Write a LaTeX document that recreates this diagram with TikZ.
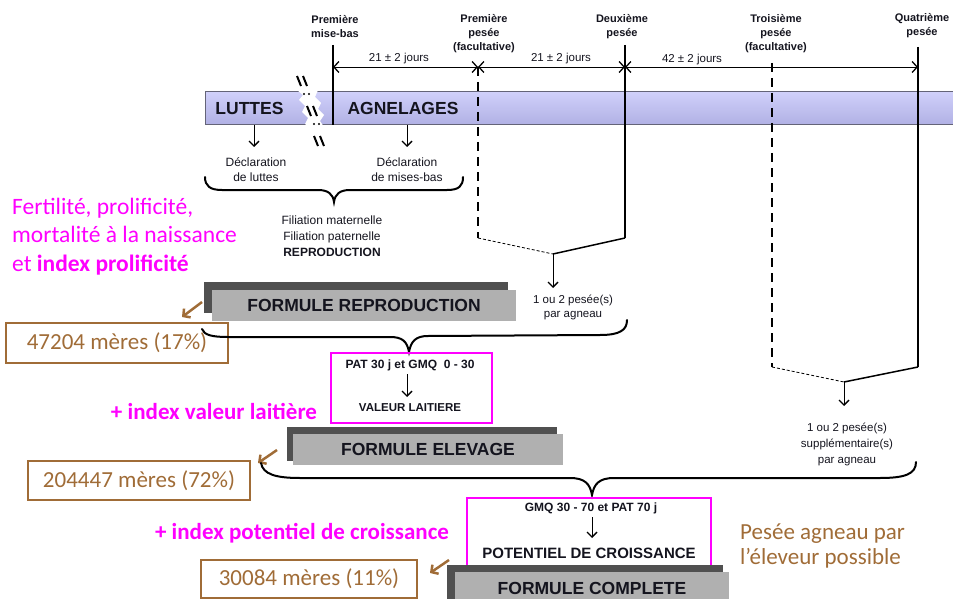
\documentclass[tikz,border=0pt]{standalone}
\usepackage{fontspec}
\setmainfont{Liberation Sans}
\newfontfamily\calfont{Carlito}
\usetikzlibrary{arrows.meta}
\definecolor{pinkc}{RGB}{255,0,255}
\definecolor{brownc}{RGB}{160,108,55}
\definecolor{darkbar}{RGB}{80,80,80}
\definecolor{lightbar}{RGB}{176,176,176}
\definecolor{bartop}{RGB}{208,208,250}
\definecolor{barbot}{RGB}{176,176,228}
\definecolor{barline}{RGB}{100,100,120}
\definecolor{txtc}{RGB}{20,20,30}
\begin{document}
\begin{tikzpicture}[x=1pt,y=-1pt,
  lbl/.style={font=\fontsize{11.5}{15}\selectfont, align=center, inner sep=0pt, text=txtc},
  blbl/.style={font=\fontsize{11}{14}\selectfont\bfseries, align=center, inner sep=0pt, text=txtc},
  vline/.style={line width=2.2pt},
  vdash/.style={line width=2.2pt, dash pattern=on 9pt off 6pt},
  thindash/.style={line width=0.8pt, dash pattern=on 3pt off 2pt},
  thinline/.style={line width=1.5pt},
  dim/.style={line width=0.9pt, {Straight Barb[length=5pt,width=11pt,line width=1.3pt]}-{Straight Barb[length=5pt,width=11pt,line width=1.3pt]}},
  darr/.style={line width=1pt, -{Straight Barb[length=5pt,width=10pt,line width=1.4pt]}},
  bracepath/.style={line width=2pt, line cap=round},
  pinkbox/.style={draw=pinkc, line width=2pt},
  lightbox/.style={fill=lightbar, inner sep=0pt, font=\fontsize{17.5}{20}\selectfont\bfseries, text=txtc},
  pinktxt/.style={font=\calfont\fontsize{23.5}{28.5}\selectfont, text=pinkc, align=left, inner sep=0pt},
  pinkbold/.style={font=\calfont\bfseries\fontsize{23}{28}\selectfont, text=pinkc, inner sep=0pt},
  brownbox/.style={draw=brownc, line width=2pt, text=brownc, font=\calfont\fontsize{23}{28}\selectfont, inner sep=0pt},
  browntxt/.style={font=\calfont\fontsize{23}{25}\selectfont, text=brownc, align=left, inner sep=0pt},
  brownarr/.style={draw=brownc, line width=2.5pt, -{Straight Barb[length=5pt,width=11pt]}},
  marks/.style={line width=2pt}
]
\useasboundingbox (0,0) rectangle (953,599);

% ---- main bar
\shade[top color=bartop, bottom color=barbot] (205,92) rectangle (955,125);
\draw[barline, line width=1pt] (205,92) rectangle (955,125);
\node[font=\fontsize{17.5}{20}\selectfont\bfseries, inner sep=0pt, text=txtc] (luttes) at (249.5,108) {LUTTES};
\node[font=\fontsize{17.5}{20}\selectfont\bfseries, inner sep=0pt, text=txtc] (agnel) at (403,108) {AGNELAGES};

% ---- break in the bar
\fill[white] (297,90) -- (303,95) -- (299,100) -- (305,106) -- (302,112) -- (308,118) -- (305,124) -- (309,127)
  -- (324,127) -- (320,121) -- (324,115) -- (318,109) -- (321,103) -- (315,97) -- (318,90) -- cycle;
\draw[marks] (297,76) -- (301,86) (303,76) -- (307,86);
\draw[marks] (307,106) -- (311,116) (313,106) -- (317,116);
\draw[marks] (314,136) -- (318,146) (320,136) -- (324,146);
\fill (304,94) circle (1.2) (309,94) circle (1.2) (314,124) circle (1.2) (319,124) circle (1.2);

% ---- top labels
\node[blbl] (t1) at (335,26.5) {Première\\mise-bas};
\node[blbl] (t2) at (484,34) {Première\\pesée\\(facultative)};
\node[blbl] (t3) at (622,27) {Deuxième\\pesée};
\node[blbl] (t4) at (776,34) {Troisième\\pesée\\(facultative)};
\node[blbl] (t5) at (922,26) {Quatrième\\pesée};

% ---- vertical lines
\coordinate (v1t) at (333,45);  \coordinate (v1b) at (333,125);
\coordinate (v2t) at (478,67);  \coordinate (v2b) at (478,238);
\coordinate (v3t) at (625,45);  \coordinate (v3b) at (625,238);
\coordinate (v4t) at (772,63);  \coordinate (v4b) at (772,367);
\coordinate (v5t) at (918,47);  \coordinate (v5b) at (918,367);
\draw[vline] (v1t) -- (v1b);
\draw[vdash] (v2t) -- (v2b);
\draw[vline] (v3t) -- (v3b);
\draw[vdash] (v4t) -- (v4b);
\draw[vline] (v5t) -- (v5b);

% ---- dimension arrows
\coordinate (m1) at (333,67); \coordinate (m2) at (478,67);
\coordinate (m3) at (625,67); \coordinate (m4) at (918,67);
\draw[dim] (m1) -- (m2);
\draw[dim] (m2) -- (m3);
\draw[dim] (m3) -- (m4);
\node[lbl] (d1) at (399,59) {21 ± 2 jours};
\node[lbl] (d2) at (561,59) {21 ± 2 jours};
\node[lbl] (d3) at (692,60) {42 ± 2 jours};

% ---- declarations
\coordinate (a1) at (254,125); \coordinate (a2) at (407,125);
\node[lbl, font=\fontsize{12}{15}\selectfont] (dl1) at (256,169.5) {Déclaration\\de luttes};
\node[lbl, font=\fontsize{12}{15}\selectfont] (dl2) at (407,169.5) {Déclaration\\de mises-bas};
\draw[darr] (a1) -- (a1 |- 0,147);
\draw[darr] (a2) -- (a2 |- 0,147);

% ---- brace 1
\draw[bracepath] (205,177) .. controls (205,186) and (210,190) .. (222,190) -- (318,190)
  .. controls (328,190) and (333,194) .. (334,202) .. controls (335,194) and (340,190) .. (350,190)
  -- (447,190) .. controls (459,190) and (463,186) .. (463,177);
\node[lbl, font=\fontsize{12}{16}\selectfont] (fil) at (332,236) {Filiation maternelle\\Filiation paternelle\\\textbf{REPRODUCTION}};

% ---- left pink text
\node[pinktxt, anchor=west] (pk1) at (12,236.5) {Fertilité, prolificité,\\mortalité à la naissance\\et \textbf{index prolificité}};

% ---- first join
\coordinate (j1) at (553,254);
\draw[thindash] (v2b) -- (j1);
\draw[thinline] (v3b) -- (j1);
\node[lbl, font=\fontsize{11.5}{13.5}\selectfont] (p1) at (573,307.5) {1 ou 2 pesée(s)\\par agneau};
\draw[darr] (j1) -- (553,288);

% ---- formule reproduction
\fill[darkbar] (204,282) rectangle (508,313);
\node[lightbox, minimum width=304pt, minimum height=31pt] (fr) at (364,305.5) {FORMULE REPRODUCTION};
\node[brownbox, minimum width=222pt, minimum height=40pt] (b1) at (117,343) {47204 mères (17\%)};
\coordinate (ba1s) at (202,302); \coordinate (ba1e) at (182,317);
\draw[brownarr] (ba1s) -- (ba1e);

% ---- brace 2
\draw[bracepath] (202,329) .. controls (204,335) and (212,337) .. (228,337) -- (390,337)
  .. controls (402,337) and (407,341) .. (409,352) .. controls (411,341) and (416,336) .. (428,336)
  -- (600,335) .. controls (620,335) and (627,330) .. (627,320);

% ---- pink box 1
\draw[pinkbox] (331,353) rectangle (492,423);
\node[blbl, font=\fontsize{12}{14}\selectfont\bfseries] (pa) at (410,365) {PAT 30 j et GMQ ~0 - 30};
\node[blbl, font=\fontsize{11.5}{14}\selectfont\bfseries] (vl) at (410,408) {VALEUR LAITIERE};
\draw[darr] (407,374) -- (407,397);
\node[pinkbold] (ivl) at (214,411) {+ index valeur laitière};

% ---- second join
\coordinate (j2) at (844,382);
\draw[thindash] (v4b) -- (j2);
\draw[thinline] (v5b) -- (j2);
\draw[darr] (j2) -- (844,406);
\node[lbl, font=\fontsize{11.5}{16}\selectfont] (p2) at (847,444) {1 ou 2 pesée(s)\\supplémentaire(s)\\par agneau};

% ---- formule elevage
\fill[darkbar] (287,427) rectangle (557,461);
\node[lightbox, minimum width=270pt, minimum height=31pt] (fe) at (428,449.5) {FORMULE ELEVAGE};
\node[brownbox, minimum width=222pt, minimum height=39pt] (b2) at (139,480.5) {204447 mères (72\%)};
\coordinate (ba2s) at (277,450); \coordinate (ba2e) at (258,463);
\draw[brownarr] (ba2s) -- (ba2e);

% ---- brace 3
\draw[bracepath] (261,463) .. controls (263,474) and (275,478) .. (300,478) -- (570,478)
  .. controls (585,478) and (590,484) .. (592,495) .. controls (594,484) and (599,478) .. (614,478)
  -- (880,478) .. controls (905,478) and (916,474) .. (916,462);

% ---- pink box 2
\draw[pinkbox] (467,498) rectangle (711,566);
\node[blbl, font=\fontsize{12}{14}\selectfont\bfseries] (gm) at (591,508) {GMQ 30 - 70 et PAT 70 j};
\node[blbl, font=\fontsize{15}{17}\selectfont\bfseries] (pc) at (589,553) {POTENTIEL DE CROISSANCE};
\draw[darr] (592,517) -- (592,538);
\node[pinkbold] (ipc) at (302,533) {+ index potentiel de croissance};

% ---- formule complete
\fill[darkbar] (447,565) rectangle (723,602);
\node[lightbox, minimum width=274pt, minimum height=32pt] (fc) at (592,588) {FORMULE COMPLETE};
\node[brownbox, minimum width=216pt, minimum height=38pt] (b3) at (309,579) {30084 mères (11\%)};
\coordinate (ba3s) at (449,560); \coordinate (ba3e) at (430,573);
\draw[brownarr] (ba3s) -- (ba3e);

\node[browntxt, anchor=west] (pes) at (740,546) {Pesée agneau par\\l’éleveur possible};
\end{tikzpicture}
\end{document}
